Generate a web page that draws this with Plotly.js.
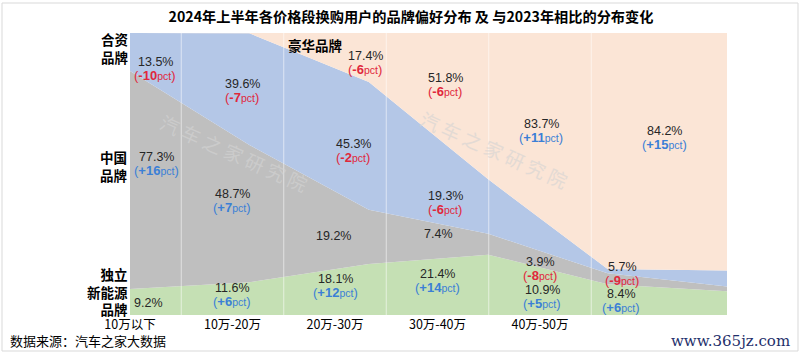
<!DOCTYPE html>
<html><head><meta charset="utf-8">
<script src="https://cdn.plot.ly/plotly-3.0.1.min.js"></script>
<style>body{margin:0;background:#fff}#chart{width:800px;height:357px}</style>
</head><body><div id="chart"></div>
<script>
// ---------- data ----------
const categories = ['10万以下','10万-20万','20万-30万','30万-40万','40万-50万','50万以上'];
const tickLabels = ['10万以下','10万-20万','20万-30万','30万-40万','40万-50万'];
const newEnergy = [9.2, 11.6, 18.1, 21.4, 10.9, 8.4];
const chinese   = [77.3, 48.7, 19.2, 7.4, 3.9, 1.7];
const joint     = [13.5, 39.6, 45.3, 19.3, 1.5, 5.7];
const luxury    = [0, 0.1, 17.4, 51.8, 83.7, 84.2];
const newEnergyChange = [null, 6, 12, 14, 5, 6];
const chineseChange   = [16, 7, null, null, -8, null];
const jointChange     = [-10, -7, -2, -6, null, -9];
const luxuryChange    = [null, null, -6, -6, 11, 15];
const titleText = '2024年上半年各价格段换购用户的品牌偏好分布 及 与2023年相比的分布变化';
const sourceText = '数据来源：汽车之家大数据';

// ---------- layout geometry (pixels) ----------
const W = 800, H = 357, L = 130, R = 727, T = 33, B = 315;
const PW = R - L, PH = B - T;
const px = x => (x - L) / PW;
const py = y => (B - y) / PH;
const nPts = categories.length;
const dataPerPx = (nPts - 1) / PW;
const labelStep = 102.5;

const labelPos = {
  newEnergy: [[148,303],[232,288],[335,279],[437,274],[542,290],[621,294]],
  chinese:   [[156,157],[232,194],[333,236],[438,234],[540,262],null],
  joint:     [[155,62],[242,84],[353,144],[445,196],null,[622,267]],
  luxury:    [null,null,[365,56],[445,78],[541,124],[664,131]]
};
const series = {newEnergy, chinese, joint, luxury};
const changes = {newEnergy: newEnergyChange, chinese: chineseChange, joint: jointChange, luxury: luxuryChange};

const xIdx = categories.map((_, i) => i);
const mk = (name, y, color) => ({
  type: 'scatter', mode: 'lines', name, x: xIdx, y, stackgroup: 'one',
  line: {width: 0, color}, fillcolor: color, hoverinfo: 'skip', showlegend: false
});
const traces = [
  mk('独立新能源品牌', newEnergy, '#C5E0B4'),
  mk('中国品牌', chinese, '#BFBFBF'),
  mk('合资品牌', joint, '#B4C7E7'),
  mk('豪华品牌', luxury, '#FBE5D6')
];

const FONT_NUM = 'Liberation Sans, Arial, sans-serif';
const FONT_CJK = 'Noto Sans CJK SC, sans-serif';
const RED = '#e0283c', BLUE = '#3b7fd6';

const ann = [];
Object.keys(series).forEach(k => {
  series[k].forEach((v, i) => {
    const p = labelPos[k][i];
    if (!p) return;
    ann.push({xref:'paper', yref:'paper', x: px(p[0]), y: py(p[1]), xanchor:'center', yanchor:'middle',
      text: v + '%', showarrow:false, font:{family: FONT_NUM, size: 12.5, color:'#262626'}});
    const c = changes[k][i];
    if (c !== null && c !== undefined) {
      const s = c > 0 ? '+' + c : '' + c;
      ann.push({xref:'paper', yref:'paper', x: px(p[0]), y: py(p[1] + 13.5), xanchor:'center', yanchor:'middle',
        text: '(<b>' + s + '</b><span style="font-size:10.5px">pct</span>)', showarrow:false,
        font:{family: FONT_NUM, size: 13, color: c > 0 ? BLUE : RED}});
    }
  });
});

// side labels
const sideLab = (t, x, y, anchor) => ann.push({xref:'paper', yref:'paper', x: px(x), y: py(y), xanchor: anchor, yanchor:'middle',
  align: anchor, text: t, showarrow:false, borderpad: 0, font:{family: FONT_CJK, size: 13.5, color:'#000', weight: 'bold'}});
sideLab('合资<br>品牌', 129, 48, 'right');
sideLab('中国<br>品牌', 128, 166, 'right');
sideLab('独立<br>新能源<br>品牌', 129, 291, 'right');
sideLab('豪华品牌', 287, 45, 'left');

// watermarks
const wm = (x, y) => ann.push({xref:'paper', yref:'paper', x: px(x), y: py(y), xanchor:'center', yanchor:'middle',
  text: '汽 车 之 家 研 究 院', textangle: 24, showarrow:false, opacity: 0.6,
  font:{family: FONT_CJK, size: 19, color:'#d4d4d4'}});
wm(234, 152); wm(495, 149);

ann.push({xref:'paper', yref:'paper', x: px(8), y: py(340), xanchor:'left', yanchor:'middle',
  text: sourceText, showarrow:false, font:{family: FONT_CJK, size: 13, color:'#000'}});
ann.push({xref:'paper', yref:'paper', x: px(792), y: py(341), xanchor:'right', yanchor:'middle',
  text: 'www.365jz.com', showarrow:false, font:{family: 'DejaVu Serif, serif', size: 15, color:'#1f2f6b'}});

const shapes = [];
for (let i = 0; i < tickLabels.length; i++) {
  const xd = (i + 0.5) * labelStep * dataPerPx;
  shapes.push({type:'line', xref:'x', yref:'paper', x0: xd, x1: xd, y0: 0, y1: 1, layer:'above',
    line:{color:'rgba(255,255,255,0.55)', width:1}});
}
shapes.push({type:'rect', xref:'paper', yref:'paper', x0: px(2), x1: px(798), y0: py(351), y1: py(3), layer:'below',
  line:{color:'#d9d9d9', width:1}, fillcolor:'rgba(0,0,0,0)'});

const layout = {
  width: W, height: H,
  margin: {l: L, r: W - R, t: T, b: H - B, pad: 0},
  paper_bgcolor: '#fff', plot_bgcolor: '#fff',
  title: {text: '<b>' + titleText + '</b>', x: 411 / W, xanchor: 'center', y: 1 - 17 / H, yanchor: 'middle',
    font: {family: FONT_CJK, size: 14.2, color: '#000'}},
  xaxis: {range: [0, nPts - 1], showgrid: false, zeroline: false, showline: false, ticks: '',
    tickmode: 'array', tickvals: tickLabels.map((_, i) => i * labelStep * dataPerPx), ticktext: tickLabels,
    tickfont: {family: FONT_CJK, size: 12.5, color: '#000'}, fixedrange: true},
  yaxis: {range: [0, 100], visible: false, fixedrange: true},
  annotations: ann, shapes, showlegend: false
};
Plotly.newPlot('chart', traces, layout, {staticPlot: true, displayModeBar: false});
</script></body></html>
